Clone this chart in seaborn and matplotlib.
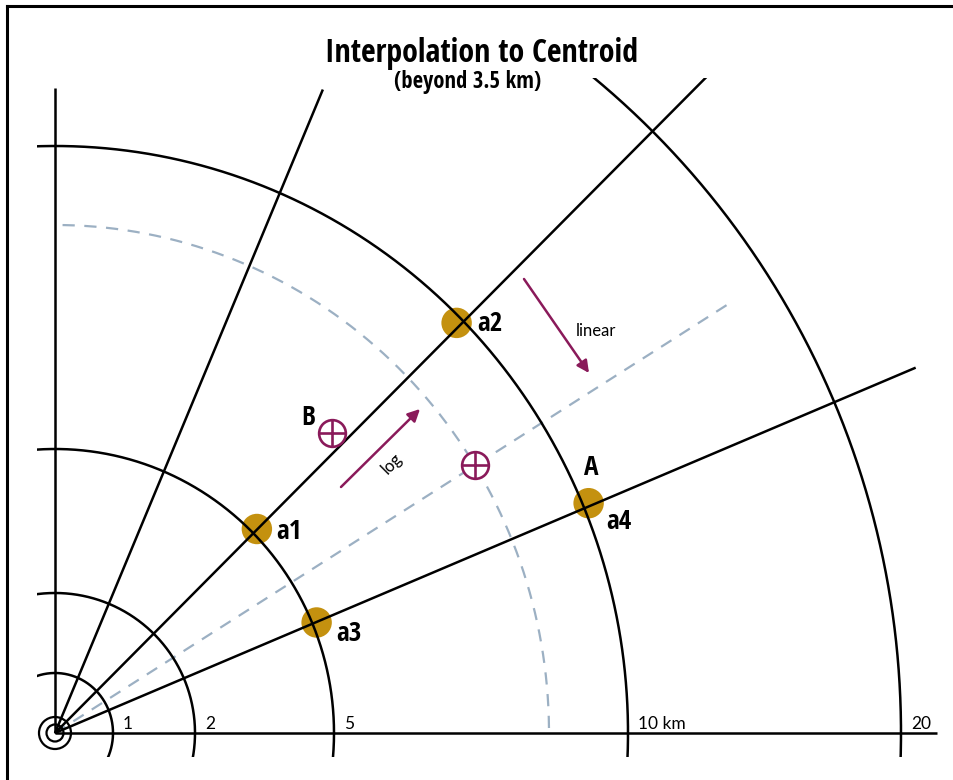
import numpy as np
import matplotlib
matplotlib.use('Agg')
import matplotlib.pyplot as plt
import matplotlib.font_manager as fm
from matplotlib.textpath import TextPath
from matplotlib.patches import Rectangle, Circle
from matplotlib.lines import Line2D
import seaborn as sns
import pandas as pd

# ---------------- data ----------------
ring_km = [1, 2, 5, 10, 20]
ring_labels = ['1', '2', '5', '10 km', '20']
ring_rx = [58, 140, 279, 573, 846]        # drawn horizontal radius of each ring
ring_ry = [60, 140, 284, 587, 850]        # drawn vertical radius of each ring

ray_angles = [67.4, 45.2, 23.0]           # degrees
ray_lengths = [697, 926, 935]
mid_ray_angle = 32.5
mid_ray_length = 803
mid_arc_rx = 494
mid_arc_ry = 508

station_names = ['a1', 'a2', 'a3', 'a4']
station_r = [287, 574, 284, 581]
station_angle = [45.3, 45.6, 22.9, 23.3]

centroid_names = ['B', '']
centroid_r = [408, 498]
centroid_angle = [47.3, 32.5]

title = 'Interpolation to Centroid'
subtitle = '(beyond 3.5 km)'

# ---------------- style ----------------
sns.set_theme(style='white')
plt.rcParams['font.family'] = ['Lato', 'DejaVu Sans']
plt.rcParams['text.color'] = 'black'

SAMPLE = 'Interpolation to Centroid'
SANS_BASES = ['DejaVu Sans', 'Liberation Sans', 'Noto Sans', 'Roboto',
              'Open Sans', 'Lato', 'Inter']


def _weight(w):
    if isinstance(w, (int, float)):
        return w
    return {'bold': 700, 'normal': 400, 'regular': 400, 'black': 900, 'heavy': 800,
            'semibold': 600, 'demibold': 600, 'light': 300}.get(str(w).lower(), 400)


def _allowed(name):
    for b in SANS_BASES:
        if name == b:
            return True
        if name.startswith(b + ' ') and ('Condensed' in name or 'Narrow' in name):
            return True
    return False


def _ratio(fname):
    try:
        fp = fm.FontProperties(fname=fname, size=20)
        w = TextPath((0, 0), SAMPLE, prop=fp).get_extents().width
        h = TextPath((0, 0), 'I', prop=fp).get_extents().height
        return w / h
    except Exception:
        return None


def pick_condensed_bold():
    cands = set()
    for f in fm.fontManager.ttflist:
        if not f.fname.lower().endswith(('.ttf', '.otf')):
            continue
        if not _allowed(f.name):
            continue
        if 'italic' in f.fname.lower() or 'oblique' in f.fname.lower():
            continue
        if str(f.style) != 'normal':
            continue
        if 650 <= _weight(f.weight) <= 900:
            cands.add(f.fname)
    best = None
    for fn in cands:
        r = _ratio(fn)
        if r is None:
            continue
        if best is None or r < best[0]:
            best = (r, fn)
    return best[1] if best else None


COND_FILE = pick_condensed_bold()


def fit_font(text, target_w, target_cap):
    if COND_FILE:
        fp = fm.FontProperties(fname=COND_FILE)
    else:
        fp = fm.FontProperties(family='DejaVu Sans', weight='bold')
    fp.set_size(20)
    w = TextPath((0, 0), text, prop=fp).get_extents().width * 100 / 72
    h = TextPath((0, 0), 'I', prop=fp).get_extents().height * 100 / 72
    size_w = 20 * target_w / w
    size_h = 20 * target_cap / h
    size = min(np.sqrt(size_w * size_h), size_w * 1.08)
    fp.set_size(size)
    return fp


BLACK = '#000000'
GOLD = '#C4910F'
MAROON = '#8A1A5A'
DASH = '#9CB0C3'
LW = 1.8

W, H = 954, 780
OX, OY = 55, 733
fig = plt.figure(figsize=(W / 100, H / 100), dpi=100)
ax = fig.add_axes([0, 0, 1, 1])
ax.set_xlim(-OX, W - OX)
ax.set_ylim(OY - H, OY)
ax.set_aspect('equal')
ax.axis('off')

# frame (left and top edges)
fig.add_artist(Line2D([7 / W, 7 / W], [0, 1 - 6 / H], color=BLACK, lw=2.2,
                      transform=fig.transFigure, solid_capstyle='projecting'))
fig.add_artist(Line2D([7 / W, 1], [1 - 6 / H, 1 - 6 / H], color=BLACK, lw=2.2,
                      transform=fig.transFigure, solid_capstyle='projecting'))

# axis lines
ax.plot([0, 0], [0, 645], color=BLACK, lw=LW, solid_capstyle='butt', zorder=3)
ax.plot([0, 882], [0, 0], color=BLACK, lw=LW, solid_capstyle='butt', zorder=3)

# distance rings (clipped to box)
clip = Rectangle((-18, -24), 2000, 679, transform=ax.transData, fill=False)
t = np.linspace(-np.pi / 2, np.pi, 2000)
for rx, ry in zip(ring_rx, ring_ry):
    ln, = ax.plot(rx * np.cos(t), ry * np.sin(t), color=BLACK, lw=LW, zorder=3)
    ln.set_clip_path(clip)

# rays
for a, L in zip(ray_angles, ray_lengths):
    ar = np.radians(a)
    ln, = ax.plot([0, L * np.cos(ar)], [0, L * np.sin(ar)], color=BLACK, lw=LW,
                  solid_capstyle='butt', zorder=3)
    ln.set_clip_path(clip)

# dashed mid ray and mid arc
ar = np.radians(mid_ray_angle)
ax.plot([0, mid_ray_length * np.cos(ar)], [0, mid_ray_length * np.sin(ar)],
        color=DASH, lw=1.6, dashes=(5.5, 4.3), zorder=2)
ta = np.linspace(np.arcsin(5 / mid_arc_ry), np.pi / 2, 600)
ax.plot(mid_arc_rx * np.cos(ta), mid_arc_ry * np.sin(ta),
        color=DASH, lw=1.6, dashes=(5.5, 4.3), zorder=2)

# origin target
for rr in [16, 8.5]:
    ax.add_patch(Circle((0, 0), rr, fill=False, ec=BLACK, lw=1.6, zorder=4))

# stations
st = pd.DataFrame({
    'name': station_names,
    'x': [r * np.cos(np.radians(a)) for r, a in zip(station_r, station_angle)],
    'y': [r * np.sin(np.radians(a)) for r, a in zip(station_r, station_angle)],
})
sns.scatterplot(data=st, x='x', y='y', s=480, color=GOLD, edgecolor='none',
                linewidth=0, zorder=2, ax=ax, legend=False)

lab_fp = fit_font('a1', 24, 17.5)
label_off = [(19, -2), (21, -1), (20, -11), (18, -18)]
for (_, row), (dx, dy) in zip(st.iterrows(), label_off):
    ax.text(row.x + dx, row.y + dy, row['name'], ha='left', va='center',
            fontproperties=lab_fp, zorder=6)
a4 = st.iloc[3]
ax.text(a4.x + 3, a4.y + 36, 'A', ha='center', va='center',
        fontproperties=lab_fp, zorder=6)

# centroids
ce = pd.DataFrame({
    'x': [r * np.cos(np.radians(a)) for r, a in zip(centroid_r, centroid_angle)],
    'y': [r * np.sin(np.radians(a)) for r, a in zip(centroid_r, centroid_angle)],
})
sns.scatterplot(data=ce, x='x', y='y', s=370, marker='o', facecolor='white',
                edgecolor=MAROON, linewidth=1.9, zorder=5, ax=ax, legend=False)
ax.scatter(ce.x, ce.y, s=370, marker='+', color=MAROON, linewidths=1.9, zorder=6)
ax.text(ce.x[0] - 24, ce.y[0] + 16, centroid_names[0], ha='center', va='center',
        fontproperties=lab_fp, zorder=6)

# arrows
arrow_kw = dict(arrowstyle='-|>', mutation_scale=18, lw=1.8, color=MAROON,
                shrinkA=0, shrinkB=0)
ax.annotate('', xy=(365, 324), xytext=(286, 246), arrowprops=arrow_kw, zorder=6)
ax.annotate('', xy=(534, 360), xytext=(469, 454), arrowprops=arrow_kw, zorder=6)
ax.text(337, 269, 'log', rotation=45, ha='center', va='center', fontsize=12,
        rotation_mode='anchor', zorder=6)
ax.text(541, 402, 'linear', ha='center', va='center', fontsize=12, zorder=6)

# ring labels
for rx, lab in zip(ring_rx, ring_labels):
    ax.text(rx + 10, 4, lab, ha='left', va='baseline', fontsize=12.5, zorder=6)

# title
ax.text(482 - OX, OY - 62, title, ha='center', va='baseline',
        fontproperties=fit_font(title, 320, 22))
ax.text(468 - OX, OY - 88, subtitle, ha='center', va='baseline',
        fontproperties=fit_font(subtitle, 146, 16))

fig.savefig('out.png', dpi=100)
